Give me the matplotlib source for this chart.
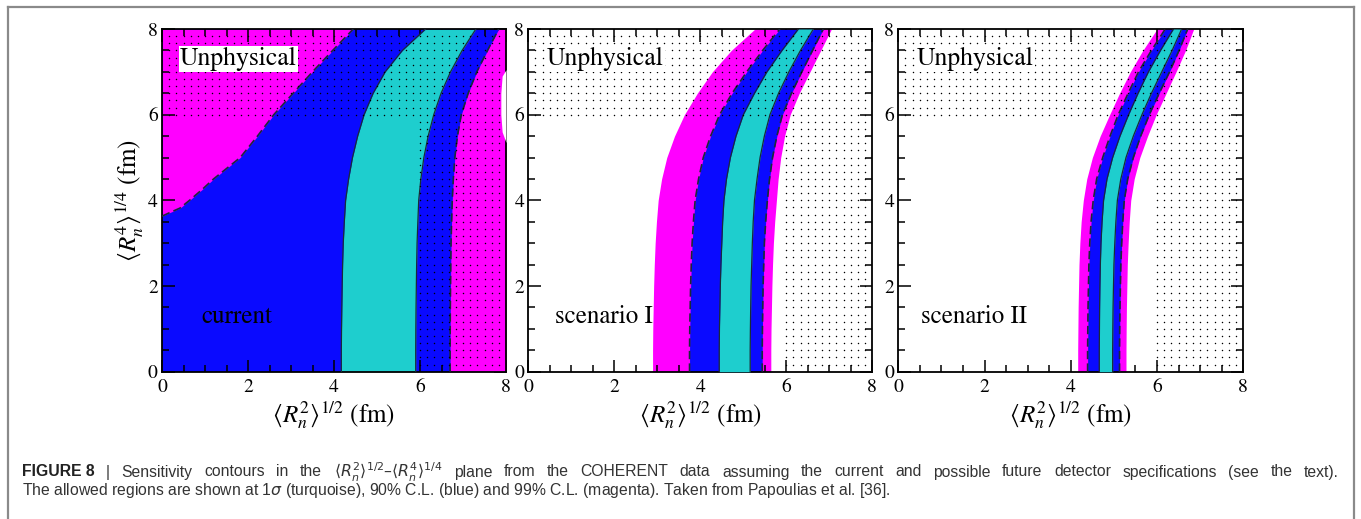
import numpy as np
import matplotlib.pyplot as plt
from matplotlib.lines import Line2D
from matplotlib.ticker import MultipleLocator

plt.rcParams['font.family'] = ['STIXGeneral', 'DejaVu Serif']
plt.rcParams['mathtext.fontset'] = 'stix'

MAGENTA = '#ff00ff'
BLUE = '#0a0aff'
CYAN = '#1ecece'
EDGE = '#1a2a3a'

# heights <R_n^4>^(1/4) (fm) at which the contour edges were read
ys = [0, 0.5, 1, 1.5, 2, 2.5, 3, 3.5, 4, 4.5, 5, 5.5, 6, 6.5, 7, 7.5, 8]

# current detector: 1 sigma band and the 90% / 99% edge on the right
cur_cyan_left = [4.17, 4.17, 4.175, 4.182, 4.19, 4.20, 4.215, 4.24, 4.27, 4.34, 4.43, 4.55, 4.70, 4.91, 5.19, 5.59, 6.13]
cur_cyan_right = [5.90, 5.90, 5.903, 5.908, 5.915, 5.922, 5.932, 5.95, 5.97, 6.02, 6.09, 6.19, 6.32, 6.49, 6.71, 6.98, 7.30]
cur_dash_right = [6.70, 6.70, 6.702, 6.705, 6.71, 6.715, 6.722, 6.735, 6.75, 6.775, 6.81, 6.87, 6.96, 7.12, 7.32, 7.57, 7.83]
# current detector: upper-left 90% / 99% edge
ul_y = [3.63, 3.70, 3.82, 4.0, 4.25, 4.5, 5.0, 5.5, 6.0, 6.5, 7.0, 7.5, 8.0]
ul_x = [0.0, 0.15, 0.42, 0.64, 0.93, 1.20, 1.82, 2.22, 2.60, 3.05, 3.50, 3.97, 4.45]
# current detector: excluded pocket at the right edge
hole_y = [5.35, 5.6, 6.0, 6.5, 6.9, 7.05]
hole_x = [8.0, 7.91, 7.88, 7.88, 7.91, 8.0]

# scenario I
s1_mag_left = [2.89, 2.89, 2.895, 2.905, 2.915, 2.93, 2.95, 2.98, 3.02, 3.10, 3.22, 3.40, 3.63, 3.93, 4.28, 4.72, 5.27]
s1_dash_left = [3.75, 3.75, 3.755, 3.765, 3.775, 3.79, 3.81, 3.84, 3.88, 3.96, 4.07, 4.24, 4.45, 4.74, 5.08, 5.45, 5.85]
s1_cyan_left = [4.44, 4.44, 4.445, 4.455, 4.465, 4.48, 4.50, 4.52, 4.55, 4.61, 4.70, 4.83, 5.00, 5.26, 5.55, 5.90, 6.28]
s1_cyan_right = [5.16, 5.16, 5.165, 5.172, 5.18, 5.195, 5.21, 5.23, 5.26, 5.32, 5.39, 5.49, 5.62, 5.82, 6.06, 6.33, 6.63]
s1_dash_right = [5.44, 5.44, 5.445, 5.452, 5.46, 5.475, 5.49, 5.52, 5.56, 5.61, 5.68, 5.78, 5.91, 6.12, 6.36, 6.61, 6.86]
s1_mag_right = [5.64, 5.64, 5.645, 5.655, 5.665, 5.68, 5.70, 5.73, 5.77, 5.81, 5.87, 5.96, 6.09, 6.30, 6.55, 6.80, 7.05]

# scenario II
s2_mag_left = [4.16, 4.16, 4.165, 4.17, 4.18, 4.19, 4.21, 4.24, 4.29, 4.37, 4.50, 4.68, 4.90, 5.13, 5.38, 5.67, 6.00]
s2_dash_left = [4.39, 4.39, 4.395, 4.40, 4.41, 4.42, 4.44, 4.47, 4.52, 4.60, 4.74, 4.91, 5.10, 5.33, 5.57, 5.87, 6.19]
s2_cyan_left = [4.66, 4.66, 4.664, 4.668, 4.675, 4.685, 4.70, 4.725, 4.76, 4.84, 4.97, 5.14, 5.34, 5.56, 5.80, 6.08, 6.38]
s2_cyan_right = [4.97, 4.97, 4.974, 4.98, 4.99, 5.00, 5.02, 5.045, 5.08, 5.16, 5.28, 5.45, 5.65, 5.87, 6.11, 6.35, 6.57]
s2_dash_right = [5.13, 5.13, 5.134, 5.14, 5.15, 5.16, 5.18, 5.205, 5.24, 5.32, 5.45, 5.62, 5.82, 6.05, 6.29, 6.51, 6.71]
s2_mag_right = [5.28, 5.28, 5.284, 5.29, 5.30, 5.31, 5.33, 5.355, 5.39, 5.47, 5.60, 5.78, 5.98, 6.21, 6.44, 6.66, 6.85]

panel_names = ['current', 'scenario I', 'scenario II']
xlabel = r'$\langle R_n^2\rangle^{1/2}$ (fm)'
ylabel = r'$\langle R_n^4\rangle^{1/4}$ (fm)'

W, H = 1361, 519
fig = plt.figure(figsize=(W / 100, H / 100), dpi=100)


def px_box(left, top, right, bottom):
    return [left / W, 1 - bottom / H, (right - left) / W, (bottom - top) / H]


axes = [fig.add_axes(px_box(162, 29, 506, 371.7)),
        fig.add_axes(px_box(528.3, 29, 872.3, 371.7)),
        fig.add_axes(px_box(898.3, 29, 1243.3, 371.7))]


def setup_axes(ax):
    ax.set_xlim(0, 8)
    ax.set_ylim(0, 8)
    ax.xaxis.set_major_locator(MultipleLocator(2))
    ax.yaxis.set_major_locator(MultipleLocator(2))
    ax.xaxis.set_minor_locator(MultipleLocator(0.5))
    ax.yaxis.set_minor_locator(MultipleLocator(0.5))
    ax.tick_params(which='both', direction='in', top=True, right=True, width=1.1)
    ax.tick_params(which='major', length=9, labelsize=14)
    ax.tick_params(axis='x', which='major', pad=5)
    ax.tick_params(axis='y', which='major', pad=3)
    ax.tick_params(which='minor', length=5)
    for s in ax.spines.values():
        s.set_linewidth(1.3)
    ax.set_xlabel(xlabel, fontsize=18, labelpad=2)


def add_dots(ax):
    step = 1 / 6
    g = 6 + step * np.arange(-36, 13)
    g = g[(g > 0.05) & (g < 7.98)]
    gx, gy = np.meshgrid(g, g)
    mask = (gx >= 6 - 1e-9) | (gy >= 6 - 1e-9)
    ax.scatter(gx[mask], gy[mask], s=1.1, c='black', marker='o', linewidths=0, zorder=5)


def edge(ax, x, dashed):
    if dashed:
        ax.plot(x, ys, color=EDGE, lw=1.2, ls=(0, (5, 2.5)), zorder=4)
    else:
        ax.plot(x, ys, color=EDGE, lw=0.9, zorder=4)


# current
ax = axes[0]
ax.set_facecolor(BLUE)
ax.fill_betweenx(ul_y, 0, ul_x, color=MAGENTA, lw=0, zorder=1)
ax.fill_betweenx(ys, cur_cyan_left, cur_cyan_right, color=CYAN, lw=0, zorder=2)
ax.fill_betweenx(ys, cur_dash_right, 8, color=MAGENTA, lw=0, zorder=2)
ax.fill_betweenx(hole_y, hole_x, 8, color='white', lw=0, zorder=3)
ax.plot(ul_x, ul_y, color=EDGE, lw=1.2, ls=(0, (5, 2.5)), zorder=4)
edge(ax, cur_cyan_left, False)
edge(ax, cur_cyan_right, False)
edge(ax, cur_dash_right, True)

# scenarios
for ax, bands in [(axes[1], (s1_mag_left, s1_dash_left, s1_cyan_left, s1_cyan_right, s1_dash_right, s1_mag_right)),
                  (axes[2], (s2_mag_left, s2_dash_left, s2_cyan_left, s2_cyan_right, s2_dash_right, s2_mag_right))]:
    ml, dl, cl, cr, dr, mr = bands
    ax.fill_betweenx(ys, ml, mr, color=MAGENTA, lw=0, zorder=1)
    ax.fill_betweenx(ys, dl, dr, color=BLUE, lw=0, zorder=2)
    ax.fill_betweenx(ys, cl, cr, color=CYAN, lw=0, zorder=3)
    edge(ax, dl, True)
    edge(ax, dr, True)
    edge(ax, cl, False)
    edge(ax, cr, False)

for ax, name, nx in zip(axes, panel_names, [0.92, 0.62, 0.53]):
    setup_axes(ax)
    add_dots(ax)
    ax.text(0.42, 7.3, 'Unphysical', fontsize=18.5, va='center', ha='left', zorder=6,
            bbox=dict(facecolor='white', edgecolor='none', pad=1.0))
    ax.text(nx, 1.28, name, fontsize=18, va='center', ha='left', zorder=6)

axes[0].set_ylabel(ylabel, fontsize=18, labelpad=2)

# page frame
fig.add_artist(Line2D([7.5 / W, 7.5 / W], [0, 1 - 6.5 / H], color='#8a8a8a', lw=1.6))
fig.add_artist(Line2D([7.5 / W, 1354 / W], [1 - 6.5 / H, 1 - 6.5 / H], color='#8a8a8a', lw=1.6))
fig.add_artist(Line2D([1354 / W, 1354 / W], [0, 1 - 6.5 / H], color='#8a8a8a', lw=1.6))

# caption, first line justified between the page margins
cap_font = ['Liberation Sans', 'DejaVu Sans']
cap_size = 11.3
y1 = 1 - 472 / H
y2 = 1 - 491 / H
line1 = ['FIGURE 8', '|', 'Sensitivity', 'contours', 'in', 'the',
         r'$\langle R_n^2\rangle^{1/2}$–$\langle R_n^4\rangle^{1/4}$',
         'plane', 'from', 'the', 'COHERENT', 'data', 'assuming', 'the', 'current', 'and',
         'possible', 'future', 'detector', 'specifications', '(see', 'the', 'text).']
words = []
for i, w in enumerate(line1):
    words.append(fig.text(0, y1, w, family=cap_font, fontsize=cap_size,
                          weight='bold' if i == 0 else 'normal',
                          color='#222222' if i == 0 else '#333333',
                          va='center', math_fontfamily='dejavusans'))
fig.canvas.draw()
renderer = fig.canvas.get_renderer()
widths = [t.get_window_extent(renderer).width for t in words]
gap = (1339 - 22 - sum(widths)) / (len(words) - 1)
x = 22.0
for t, w in zip(words, widths):
    t.set_x(x / W)
    x += w + gap

fig.text(22 / W, y2, r'The allowed regions are shown at 1$\sigma$ (turquoise), 90% C.L. (blue) and 99% C.L. (magenta). '
         'Taken from Papoulias et al. [36].',
         family=cap_font, fontsize=cap_size, color='#333333', va='center', math_fontfamily='dejavusans')

fig.savefig('out.png', dpi=100)
